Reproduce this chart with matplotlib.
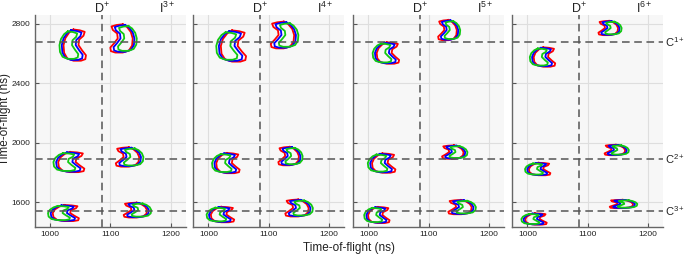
import numpy as np
import matplotlib
matplotlib.use("Agg")
import matplotlib.pyplot as plt

plt.rcParams["font.family"] = ["Liberation Sans", "DejaVu Sans"]
plt.rcParams["mathtext.fontset"] = "custom"
plt.rcParams["mathtext.rm"] = "Liberation Sans"
plt.rcParams["mathtext.it"] = "Liberation Sans:italic"

# charge states of the iodine partner, one panel each
panel_labels = ["I$^{3+}$", "I$^{4+}$", "I$^{5+}$", "I$^{6+}$"]

# C line positions (ns) and labels
c_lines = [2676, 1889, 1540]
c_labels = ["C$^{1+}$", "C$^{2+}$", "C$^{3+}$"]
d_line = 1086

# blob extent (centre x, centre y, half-width, half-height) in ns, rows C1+, C2+, C3+
d_blobs = [
    [(1040, 2655, 24, 105), (1034, 1869, 28, 68), (1025, 1526, 28, 54)],
    [(1040, 2649, 27, 105), (1031, 1862, 25, 68), (1022, 1516, 25, 52)],
    [(1031, 2602, 24, 72), (1024, 1862, 25, 65), (1016, 1513, 23, 54)],
    [(1027, 2575, 23, 65), (1019, 1822, 23, 42), (1013, 1486, 23, 38)],
]
i_blobs = [
    [(1120, 2700, 24, 95), (1130, 1903, 25, 65), (1143, 1546, 25, 50)],
    [(1124, 2723, 25, 90), (1134, 1909, 22, 62), (1148, 1560, 25, 57)],
    [(1132, 2756, 20, 68), (1141, 1936, 23, 45), (1153, 1566, 25, 48)],
    [(1135, 2770, 21, 48), (1146, 1950, 22, 35), (1157, 1587, 25, 28)],
]

# kidney-shaped outline (unit box), notch on the right
shape_u = [-0.2, 0.3, 0.7, 0.6, 0.25, 0.2, 0.5, 0.8, 0.75, 0.4, -0.2, -0.7,
           -0.95, -1.0, -0.85, -0.55, -0.2]
shape_v = [1.0, 0.95, 0.85, 0.6, 0.35, 0.0, -0.35, -0.65, -0.9, -1.0, -1.0,
           -0.85, -0.5, 0.0, 0.45, 0.8, 1.0]

# detector traces: colour, start offset and width as fraction of blob width
trace_colors = ["#ff0000", "#0000ff", "#11c811"]
trace_start = [0.14, 0.08, 0.0]
trace_width = [0.86, 0.80, 0.72]
trace_height = [1.0, 0.95, 0.88]

fig = plt.figure(figsize=(6.85, 2.56), dpi=100)
lefts = [34.7, 193.3, 353.3, 512.3]
W, H = 685.0, 256.0

u = np.array(shape_u)
v = np.array(shape_v)

for p in range(4):
    ax = fig.add_axes([lefts[p] / W, 0.112, 151 / W, 0.828])
    ax.set_facecolor("#f7f7f7")
    ax.set_xlim(975, 1225)
    ax.set_ylim(1430, 2855)
    ax.set_xticks([1000, 1100, 1200])
    ax.set_yticks([1600, 2000, 2400, 2800])
    ax.grid(color="#dedede", linewidth=0.8)
    ax.set_axisbelow(True)
    for s in ["top", "right"]:
        ax.spines[s].set_visible(False)
    for s in ["left", "bottom"]:
        ax.spines[s].set_color("#666666")
        ax.spines[s].set_linewidth(1.0)
    ax.tick_params(direction="in", length=3, colors="#555555", labelsize=6,
                   labelcolor="#222222", pad=3)
    if p > 0:
        ax.set_yticklabels([])

    for blobs, mirror in [(d_blobs[p], False), (i_blobs[p], True)]:
        for cx, cy, hw, hh in blobs:
            full = 2 * hw
            for col, st, fw, fh in zip(trace_colors, trace_start, trace_width,
                                       trace_height):
                if mirror:
                    # nested from the right edge, notch on the left
                    right = cx + hw - st * full
                    tcx = right - fw * hw
                    xs = tcx - u * fw * hw
                else:
                    left = cx - hw + st * full
                    tcx = left + fw * hw
                    xs = tcx + u * fw * hw
                ax.plot(xs, cy + v * hh * fh, color=col, linewidth=1.3,
                        solid_joinstyle="round")

    ax.axvline(d_line, color="#555555", linestyle=(0, (5, 3)), linewidth=1.1)
    for yl in c_lines:
        ax.axhline(yl, color="#555555", linestyle=(0, (5, 3)), linewidth=1.1)

    ax.text(d_line, 2868, "D$^{+}$", ha="center", va="baseline", fontsize=9,
            color="#222222")
    ax.text(1194, 2868, panel_labels[p], ha="center", va="baseline",
            fontsize=9, color="#222222")
    if p == 3:
        for yl, lab in zip(c_lines, c_labels):
            ax.text(1227, yl, lab, ha="left", va="center", fontsize=8,
                    color="#222222")

fig.text(5.5 / W, 0.535, "Time-of-flight (ns)", rotation=90, ha="center",
         va="center", fontsize=8.5, color="#222222")
fig.text(349 / W, 1 - 248 / H, "Time-of-flight (ns)", ha="center",
         va="center", fontsize=8.5, color="#222222")

fig.savefig("out.png", dpi=100, facecolor="white")
